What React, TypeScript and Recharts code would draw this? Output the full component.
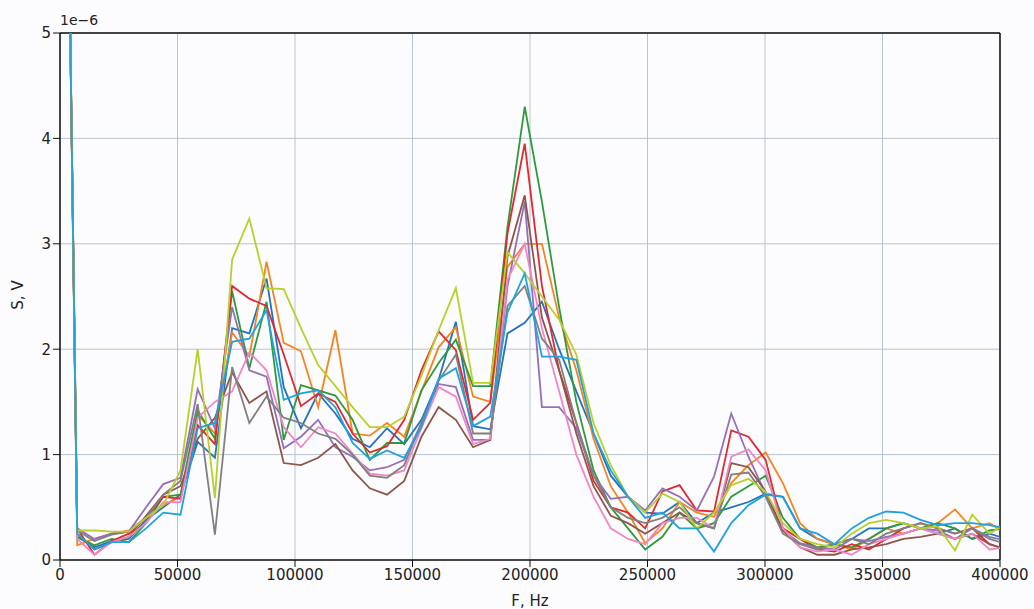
import { LineChart, Line, XAxis, YAxis, CartesianGrid, ReferenceLine } from 'recharts';

// frequency bins (Hz), spacing ~7324 Hz
const FREQS = [
  0, 7324, 14648, 21972, 29296, 36620, 43944, 51268, 58592, 65916, 73240, 80564, 87888, 95212,
  102536, 109860, 117184, 124508, 131832, 139156, 146480, 153804, 161128, 168452, 175776, 183100,
  190424, 197748, 205072, 212396, 219720, 227044, 234368, 241692, 249016, 256340, 263664, 270988,
  278312, 285636, 292960, 300284, 307608, 314932, 322256, 329580, 336904, 344228, 351552, 358876,
  366200, 373524, 380848, 388172, 395496, 402820,
];

// amplitudes in units of 1e-6 V
const S_BLUE = [
  12, 0.22, 0.12, 0.18, 0.2, 0.38, 0.5, 0.62,
  1.12, 0.97, 2.2, 2.15, 2.67, 1.64, 1.25, 1.58, 1.39, 1.15, 1.07, 1.25, 1.1,
  1.33, 1.71, 2.26, 1.27, 1.24, 2.15, 2.25, 2.45, 2.0, 1.6, 1.2, 0.8, 0.6,
  0.45, 0.44, 0.55, 0.35, 0.45, 0.5, 0.55, 0.63,
  0.6, 0.3, 0.2, 0.15, 0.2, 0.3, 0.3, 0.35, 0.3, 0.25, 0.3, 0.2, 0.25, 0.2,
];
const S_ORANGE = [
  12, 0.14, 0.2, 0.25, 0.28, 0.4, 0.52, 0.6,
  1.38, 1.2, 2.16, 1.93, 2.83, 2.06, 1.98, 1.45, 2.18, 1.2, 1.18, 1.3, 1.17,
  1.6, 2.02, 2.21, 1.55, 1.5, 2.78, 3.0, 3.0, 2.3, 1.8, 1.15, 0.7, 0.45,
  0.16, 0.3, 0.55, 0.45, 0.41, 0.73, 0.9, 1.02,
  0.73, 0.35, 0.2, 0.15, 0.1, 0.2, 0.3, 0.25, 0.3, 0.35, 0.48, 0.3, 0.35, 0.25,
];
const S_GREEN = [
  12, 0.22, 0.14, 0.2, 0.17, 0.35, 0.6, 0.62,
  1.42, 1.15, 2.55, 1.82, 2.45, 1.14, 1.66, 1.61, 1.56, 1.33, 0.95, 1.11, 1.11,
  1.61, 1.87, 2.09, 1.65, 1.65, 3.16, 4.3, 3.4, 2.4, 1.5, 0.85, 0.5, 0.3,
  0.1, 0.22, 0.45, 0.3, 0.35, 0.6, 0.7, 0.8,
  0.4, 0.2, 0.12, 0.15, 0.12, 0.2, 0.3, 0.35, 0.3, 0.35, 0.3, 0.2, 0.28, 0.3,
];
const S_RED = [
  12, 0.3, 0.05, 0.18, 0.25, 0.4, 0.6, 0.58,
  1.28, 1.1, 2.6, 2.48, 2.41, 1.95, 1.46, 1.58, 1.5, 1.2, 1.02, 1.08, 1.33,
  1.8, 2.17, 1.99, 1.33, 1.49, 3.1, 3.95, 2.6, 1.8, 1.3, 0.75, 0.5, 0.45,
  0.3, 0.65, 0.71, 0.47, 0.46, 1.23, 1.17, 0.95,
  0.3, 0.2, 0.1, 0.08, 0.15, 0.1, 0.2, 0.3, 0.35, 0.3, 0.25, 0.3, 0.15, 0.1,
];
const S_PURPLE = [
  12, 0.3, 0.2, 0.25, 0.27, 0.5, 0.72, 0.78,
  1.62, 1.25, 2.4, 1.8, 1.74, 1.06, 1.17, 1.33, 1.07, 0.98, 0.85, 0.88, 0.95,
  1.3, 1.67, 1.64, 1.14, 1.14, 2.6, 3.4, 1.45, 1.45, 1.25, 0.8, 0.58, 0.6,
  0.47, 0.68, 0.6, 0.47, 0.79, 1.39, 0.98, 0.63,
  0.28, 0.16, 0.12, 0.1, 0.2, 0.18, 0.22, 0.25, 0.3, 0.28, 0.2, 0.3, 0.22, 0.18,
];
const S_BROWN = [
  12, 0.25, 0.1, 0.17, 0.22, 0.42, 0.62, 0.7,
  1.15, 1.35, 1.78, 1.49, 1.6, 0.92, 0.9, 0.97, 1.1, 0.85, 0.68, 0.62, 0.75,
  1.17, 1.45, 1.33, 1.07, 1.14, 2.88, 3.46, 2.3, 1.8, 1.2, 0.7, 0.42, 0.35,
  0.25, 0.35, 0.45, 0.35, 0.3, 0.92, 0.88, 0.65,
  0.28, 0.12, 0.05, 0.05, 0.1, 0.12, 0.15, 0.2, 0.22, 0.25, 0.2, 0.25, 0.15, 0.1,
];
const S_PINK = [
  12, 0.2, 0.05, 0.17, 0.22, 0.35, 0.55, 0.55,
  1.35, 1.5, 1.6, 1.97, 1.8, 1.26, 1.07, 1.26, 1.2, 1.01, 0.82, 0.8, 0.85,
  1.25, 1.64, 1.55, 1.1, 1.15, 2.66, 3.0, 2.2, 1.6, 1.0, 0.6, 0.3, 0.2,
  0.15, 0.35, 0.4, 0.4, 0.3, 0.98, 1.05, 0.85,
  0.3, 0.12, 0.08, 0.1, 0.05, 0.15, 0.2, 0.25, 0.3, 0.25, 0.2, 0.25, 0.1, 0.12,
];
const S_GRAY = [
  12, 0.28, 0.18, 0.24, 0.27, 0.4, 0.62, 0.75,
  1.48, 0.24, 1.83, 1.3, 1.55, 1.35, 1.3, 1.2, 1.15, 1.0, 0.8, 0.78, 0.9,
  1.3, 1.7, 1.95, 1.2, 1.2, 2.41, 2.6, 2.1, 1.9, 1.3, 0.8, 0.5, 0.4,
  0.35, 0.4, 0.5, 0.35, 0.3, 0.81, 0.83, 0.6,
  0.25, 0.15, 0.1, 0.15, 0.2, 0.15, 0.25, 0.3, 0.35, 0.3, 0.25, 0.3, 0.2, 0.15,
];
const S_OLIVE = [
  12, 0.28, 0.28, 0.27, 0.27, 0.4, 0.52, 0.85,
  2.0, 0.59, 2.85, 3.24, 2.58, 2.57, 2.2, 1.85, 1.65, 1.45, 1.26, 1.26, 1.36,
  1.75, 2.18, 2.58, 1.68, 1.68, 2.92, 2.72, 2.5, 2.28, 1.95, 1.3, 0.9, 0.6,
  0.45, 0.63, 0.55, 0.3, 0.45, 0.71, 0.77, 0.65,
  0.35, 0.2, 0.15, 0.12, 0.25, 0.35, 0.38, 0.35, 0.3, 0.32, 0.09, 0.43, 0.25, 0.35,
];
const S_CYAN = [
  12, 0.25, 0.1, 0.17, 0.17, 0.3, 0.45, 0.43,
  1.25, 1.3, 2.07, 2.1, 2.37, 1.52, 1.58, 1.61, 1.45, 1.11, 0.96, 1.04, 0.97,
  1.26, 1.72, 1.82, 1.27, 1.36, 2.35, 2.72, 1.93, 1.93, 1.9, 1.2, 0.85, 0.6,
  0.4, 0.45, 0.3, 0.3, 0.08, 0.35, 0.52, 0.62,
  0.6, 0.3, 0.25, 0.15, 0.3, 0.4, 0.46, 0.45, 0.38, 0.33, 0.35, 0.35, 0.33, 0.3,
];

const X_TICKS = [0, 50000, 100000, 150000, 200000, 250000, 300000, 350000, 400000];
const Y_TICKS = [0, 1, 2, 3, 4, 5];

const SERIES = [
  { key: 'blue', color: '#2273bd', values: S_BLUE },
  { key: 'orange', color: '#f5841f', values: S_ORANGE },
  { key: 'green', color: '#2e9a3c', values: S_GREEN },
  { key: 'red', color: '#e2282e', values: S_RED },
  { key: 'purple', color: '#9470b8', values: S_PURPLE },
  { key: 'brown', color: '#8e5649', values: S_BROWN },
  { key: 'pink', color: '#ef86c6', values: S_PINK },
  { key: 'gray', color: '#808080', values: S_GRAY },
  { key: 'olive', color: '#b9d02a', values: S_OLIVE },
  { key: 'cyan', color: '#1fa2de', values: S_CYAN },
];

const data = FREQS.map((f, i) => {
  const row: Record<string, number> = { f };
  SERIES.forEach((s) => { row[s.key] = s.values[i]; });
  return row;
});

const font = 'DejaVu Sans, sans-serif';
const tick = { fontSize: 15, fill: '#222', fontFamily: font };

export default function App() {
  return (
    <div style={{ position: 'fixed', left: 0, top: 0, width: 1034, height: 609, background: '#fcfbfd', overflow: 'hidden' }}>
      <LineChart width={1034} height={609} data={data} margin={{ top: 33, right: 34, left: 8, bottom: 19 }}>
        <CartesianGrid stroke="#b9c4d0" strokeWidth={1} />
        <XAxis
          dataKey="f"
          type="number"
          domain={[0, 400000]}
          ticks={X_TICKS}
          allowDataOverflow
          interval={0}
          height={30}
          tick={tick}
          tickSize={7}
          axisLine={{ stroke: '#111', strokeWidth: 1.5 }}
          tickLine={{ stroke: '#111' }}
        />
        <YAxis
          type="number"
          domain={[0, 5]}
          ticks={Y_TICKS}
          allowDataOverflow
          width={52}
          tick={tick}
          tickSize={7}
          axisLine={{ stroke: '#111', strokeWidth: 1.5 }}
          tickLine={{ stroke: '#111' }}
        />
        <ReferenceLine y={5} stroke="#111" strokeWidth={1.5} />
        <ReferenceLine x={400000} stroke="#111" strokeWidth={1.5} />
        {SERIES.map((s) => (
          <Line
            key={s.key}
            dataKey={s.key}
            stroke={s.color}
            strokeWidth={1.8}
            dot={false}
            activeDot={false}
            isAnimationActive={false}
          />
        ))}
      </LineChart>
      <div style={{ position: 'absolute', left: 60, top: 12, fontFamily: font, fontSize: 14, color: '#222' }}>1e−6</div>
      <div
        style={{
          position: 'absolute', left: 18, top: 295, fontFamily: font, fontSize: 15, color: '#222',
          transform: 'translate(-50%, -50%) rotate(-90deg)', whiteSpace: 'nowrap',
        }}
      >
        S, V
      </div>
      <div
        style={{
          position: 'absolute', left: 530, top: 592, fontFamily: font, fontSize: 15, color: '#222',
          transform: 'translateX(-50%)', whiteSpace: 'nowrap',
        }}
      >
        F, Hz
      </div>
    </div>
  );
}
